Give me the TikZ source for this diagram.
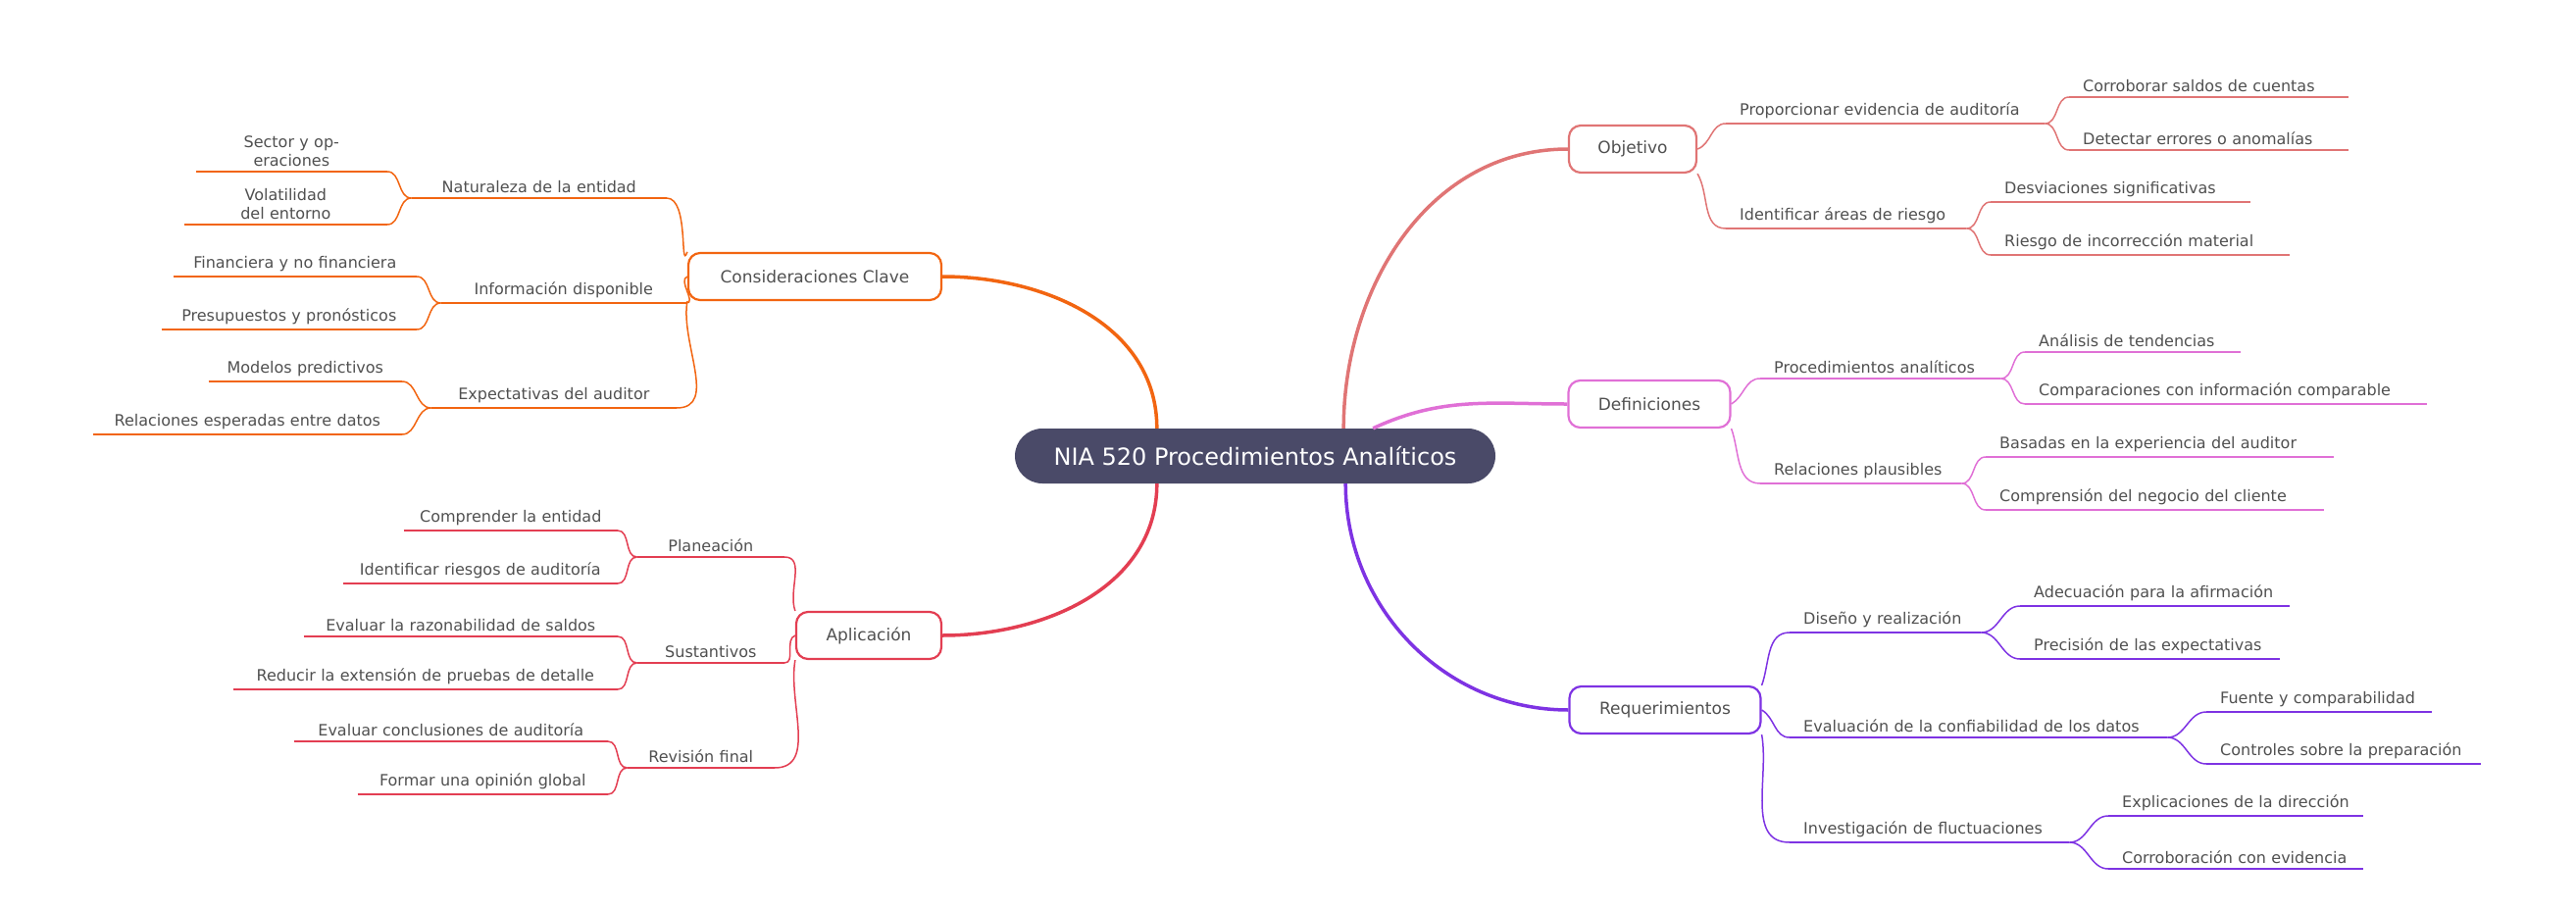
\documentclass[tikz,border=0pt]{standalone}
\usepackage{fontspec}
\setmainfont{DejaVu Sans}
\usepackage{tikz}
\usetikzlibrary{positioning}

\definecolor{cobj}{HTML}{E07575}
\definecolor{cdef}{HTML}{E070D6}
\definecolor{creq}{HTML}{7E33E3}
\definecolor{ccon}{HTML}{F26511}
\definecolor{capl}{HTML}{E33E52}
\definecolor{ctxt}{HTML}{505050}

\tikzset{
  root/.style={rounded corners=28pt, fill=HTML4A, minimum width=490pt, minimum height=56pt, text=white, font=\fontsize{24}{28}\selectfont},
  topic/.style={draw=#1, line width=2.2pt, rounded corners=12pt, minimum height=48pt, inner xsep=14pt, text=ctxt, font=\fontsize{17}{20}\selectfont},
  leaf/.style={inner xsep=14pt, inner ysep=5pt, text=ctxt, font=\fontsize{16}{19}\selectfont},
  rleaf/.style={leaf, anchor=south west, align=left},
  lleaf/.style={leaf, anchor=south east, align=center},
  uline/.style={draw=#1, line width=1.5pt}
}
\colorlet{HTML4A}{black}
\definecolor{HTML4A}{HTML}{4A4A68}

% leaf: name, x-start, x-end, y of underline, text
\newcommand{\rleaf}[6]{\node[rleaf, text width=#3-#2-28pt] (#1) at (#2,#4) {#5};
  \draw[uline=#6] (#1.south west) -- (#1.south east);}
\newcommand{\lleaf}[6]{\node[lleaf, text width=#3-#2-28pt] (#1) at (#3,#4) {#5};
  \draw[uline=#6] (#1.south west) -- (#1.south east);}

\begin{document}
\begin{tikzpicture}[x=1pt, y=-1pt]
    \useasboundingbox (0,0) rectangle (2627,929);
    % centre
    \node[root] (c) at (1280,465) {NIA 520 Procedimientos Analíticos};

    % right topics
    \node[topic=cobj, minimum width=130pt] (obj) at (1665,152) {Objetivo};
    \node[topic=cdef, minimum width=165pt] (def) at (1682,412) {Definiciones};
    \node[topic=creq, minimum width=195pt] (req) at (1698,724) {Requerimientos};
    % left topics
    \node[topic=ccon, minimum width=258pt] (con) at (831,282) {Consideraciones Clave};
    \node[topic=capl, minimum width=148pt] (apl) at (886,648) {Aplicación};

    \draw[cobj, line width=3.5pt] ([xshift=-155pt]c.north east) to[out=90, in=180] (obj.west);
    \draw[cdef, line width=3.5pt] ([xshift=-125pt]c.north east) to[out=25, in=180] (def.west);
    \draw[creq, line width=3.5pt] ([xshift=-153pt]c.south east) to[out=-90, in=180] (req.west);
    \draw[ccon, line width=3.5pt] ([xshift=145pt]c.north west) to[out=90, in=0] (con.east);
    \draw[capl, line width=3.5pt] ([xshift=145pt]c.south west) to[out=-90, in=0] (apl.east);

    % Objetivo
    \rleaf{o1}{1760}{2085}{126}{Proporcionar evidencia de auditoría}{cobj}
    \rleaf{o11}{2110}{2395}{99}{Corroborar saldos de cuentas}{cobj}
    \rleaf{o12}{2110}{2395}{153}{Detectar errores o anomalías}{cobj}
    \rleaf{o2}{1760}{2005}{233}{Identificar áreas de riesgo}{cobj}
    \rleaf{o21}{2030}{2295}{206}{Desviaciones significativas}{cobj}
    \rleaf{o22}{2030}{2335}{260}{Riesgo de incorrección material}{cobj}
    \draw[cobj, line width=1.5pt] (obj.east) to[out=20, in=180] (o1.south west);
    \draw[cobj, line width=1.5pt] (obj.south east) to[out=-60, in=180] (o2.south west);
    \foreach \p/\k in {o1/o11, o1/o12, o2/o21, o2/o22}
      \draw[cobj, line width=1.5pt] (\p.south east) to[out=0, in=180] (\k.south west);

    % Definiciones
    \rleaf{d1}{1795}{2040}{386}{Procedimientos analíticos}{cdef}
    \rleaf{d11}{2065}{2285}{359}{Análisis de tendencias}{cdef}
    \rleaf{d12}{2065}{2475}{412}{Comparaciones con información comparable}{cdef}
    \rleaf{d2}{1795}{2000}{493}{Relaciones plausibles}{cdef}
    \rleaf{d21}{2025}{2380}{466}{Basadas en la experiencia del auditor}{cdef}
    \rleaf{d22}{2025}{2370}{520}{Comprensión del negocio del cliente}{cdef}
    \draw[cdef, line width=1.5pt] (def.east) to[out=30, in=180] (d1.south west);
    \draw[cdef, line width=1.5pt] (def.south east) to[out=-70, in=180] (d2.south west);
    \foreach \p/\k in {d1/d11, d1/d12, d2/d21, d2/d22}
      \draw[cdef, line width=1.5pt] (\p.south east) to[out=0, in=180] (\k.south west);

    % Requerimientos
    \rleaf{r1}{1825}{2020}{645}{Diseño y realización}{creq}
    \rleaf{r11}{2060}{2335}{618}{Adecuación para la afirmación}{creq}
    \rleaf{r12}{2060}{2325}{672}{Precisión de las expectativas}{creq}
    \rleaf{r2}{1825}{2210}{752}{Evaluación de la confiabilidad de los datos}{creq}
    \rleaf{r21}{2250}{2480}{726}{Fuente y comparabilidad}{creq}
    \rleaf{r22}{2250}{2530}{779}{Controles sobre la preparación}{creq}
    \rleaf{r3}{1825}{2110}{859}{Investigación de fluctuaciones}{creq}
    \rleaf{r31}{2150}{2410}{832}{Explicaciones de la dirección}{creq}
    \rleaf{r32}{2150}{2410}{886}{Corroboración con evidencia}{creq}
    \draw[creq, line width=1.5pt] (req.north east) to[out=70, in=180] (r1.south west);
    \draw[creq, line width=1.5pt] (req.east) to[out=-30, in=180] (r2.south west);
    \draw[creq, line width=1.5pt] (req.south east) to[out=-80, in=180] (r3.south west);
    \foreach \p/\k in {r1/r11, r1/r12, r2/r21, r2/r22, r3/r31, r3/r32}
      \draw[creq, line width=1.5pt] (\p.south east) to[out=0, in=180] (\k.south west);

    % Consideraciones Clave
    \lleaf{k1}{420}{680}{202}{Naturaleza de la entidad}{ccon}
    \lleaf{k11}{200}{395}{175}{Sector y operaciones}{ccon}
    \lleaf{k12}{188}{395}{229}{Volatilidad del entorno}{ccon}
    \lleaf{k2}{450}{700}{309}{Información disponible}{ccon}
    \lleaf{k21}{177}{425}{282}{Financiera y no financiera}{ccon}
    \lleaf{k22}{165}{425}{336}{Presupuestos y pronósticos}{ccon}
    \lleaf{k3}{440}{690}{416}{Expectativas del auditor}{ccon}
    \lleaf{k31}{213}{410}{389}{Modelos predictivos}{ccon}
    \lleaf{k32}{95}{410}{443}{Relaciones esperadas entre datos}{ccon}
    \draw[ccon, line width=1.5pt] (con.north west) to[out=-110, in=0] (k1.south east);
    \draw[ccon, line width=1.5pt] (con.west) to[out=-160, in=0] (k2.south east);
    \draw[ccon, line width=1.5pt] (con.south west) to[out=-100, in=0] (k3.south east);
    \foreach \p/\k in {k1/k11, k1/k12, k2/k21, k2/k22, k3/k31, k3/k32}
      \draw[ccon, line width=1.5pt] (\p.south west) to[out=180, in=0] (\k.south east);

    % Aplicación
    \lleaf{a1}{650}{800}{568}{Planeación}{capl}
    \lleaf{a11}{412}{630}{541}{Comprender la entidad}{capl}
    \lleaf{a12}{350}{630}{595}{Identificar riesgos de auditoría}{capl}
    \lleaf{a2}{650}{800}{676}{Sustantivos}{capl}
    \lleaf{a21}{310}{630}{649}{Evaluar la razonabilidad de saldos}{capl}
    \lleaf{a22}{238}{630}{703}{Reducir la extensión de pruebas de detalle}{capl}
    \lleaf{a3}{640}{790}{783}{Revisión final}{capl}
    \lleaf{a31}{300}{620}{756}{Evaluar conclusiones de auditoría}{capl}
    \lleaf{a32}{365}{620}{810}{Formar una opinión global}{capl}
    \draw[capl, line width=1.5pt] (apl.north west) to[out=110, in=0] (a1.south east);
    \draw[capl, line width=1.5pt] (apl.west) to[out=-160, in=0] (a2.south east);
    \draw[capl, line width=1.5pt] (apl.south west) to[out=-100, in=0] (a3.south east);
    \foreach \p/\k in {a1/a11, a1/a12, a2/a21, a2/a22, a3/a31, a3/a32}
      \draw[capl, line width=1.5pt] (\p.south west) to[out=180, in=0] (\k.south east);
\end{tikzpicture}
\end{document}
